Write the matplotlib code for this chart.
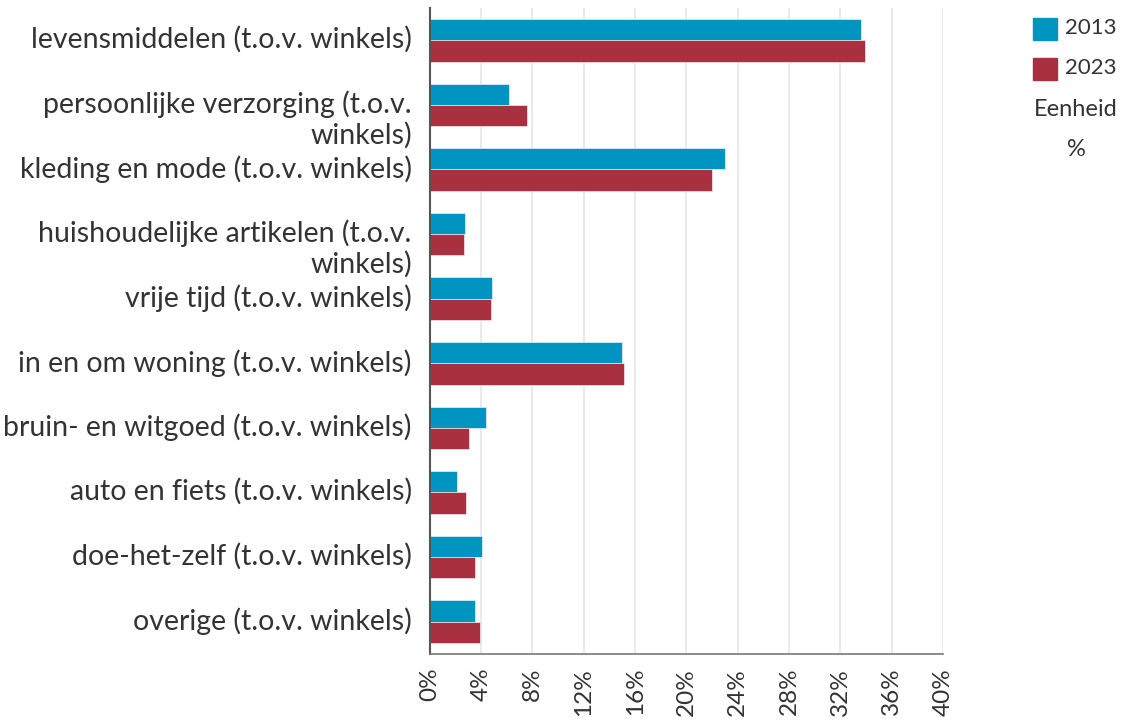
import matplotlib.pyplot as plt
import matplotlib.transforms as mtransforms
import numpy as np

plt.rcParams['font.family'] = ['Lato', 'DejaVu Sans']

# categories, top to bottom
categories = [
    "levensmiddelen (t.o.v. winkels)",
    "persoonlijke verzorging (t.o.v.\nwinkels)",
    "kleding en mode (t.o.v. winkels)",
    "huishoudelijke artikelen (t.o.v.\nwinkels)",
    "vrije tijd (t.o.v. winkels)",
    "in en om woning (t.o.v. winkels)",
    "bruin- en witgoed (t.o.v. winkels)",
    "auto en fiets (t.o.v. winkels)",
    "doe-het-zelf (t.o.v. winkels)",
    "overige (t.o.v. winkels)",
]
vals_2013 = [33.6, 6.15, 23.0, 2.75, 4.85, 15.0, 4.35, 2.15, 4.05, 3.55]
vals_2023 = [33.9, 7.55, 22.0, 2.65, 4.75, 15.15, 3.05, 2.85, 3.55, 3.95]
series_names = ["2013", "2023"]
xticks = list(range(0, 41, 4))

blue = "#0095c0"
red = "#a8303f"
txt = "#333333"

fig = plt.figure(figsize=(11.28, 7.25), dpi=100)
ax = fig.add_axes([0.381, 0.098, 0.455, 0.891])

y = np.arange(len(categories))
h = 0.33
ax.barh(y - h / 2, vals_2013, height=h, color=blue, edgecolor="white", linewidth=0.4)
ax.barh(y + h / 2, vals_2023, height=h, color=red, edgecolor="white", linewidth=0.4)

ax.set_ylim(len(categories) - 0.5, -0.5)
ax.set_xlim(0, 40)
ax.set_xticks(xticks)
ax.set_xticklabels([f"{t}%" for t in xticks], rotation=90, fontsize=17.5, color=txt)
ax.tick_params(axis="x", length=0, pad=10)
ax.set_yticks([])
ax.grid(axis="x", color="#e6e6e6", linewidth=1.2)
ax.set_axisbelow(True)

for s in ["top", "right"]:
    ax.spines[s].set_visible(False)
ax.spines["left"].set_color("#555555")
ax.spines["left"].set_linewidth(1.5)
ax.spines["bottom"].set_color("#777777")
ax.spines["bottom"].set_linewidth(1.2)

# category labels: first line centred on the bar pair
fs = 20.5
trans = mtransforms.blended_transform_factory(ax.transAxes, ax.transData)
for i, lab in enumerate(categories):
    off = mtransforms.ScaledTranslation(-13 / 72, 0.5 * fs / 72, fig.dpi_scale_trans)
    ax.text(0, i, lab, transform=trans + off, ha="right", va="top",
            fontsize=fs, color=txt, multialignment="right", linespacing=1.15)

# legend on the right
for k, (name, c) in enumerate(zip(series_names, [blue, red])):
    yy = 1 - (29 + k * 40) / 725
    fig.patches.append(plt.Rectangle((1033 / 1128, yy - 11 / 725), 24 / 1128, 22 / 725,
                                     transform=fig.transFigure, color=c))
    fig.text(1065 / 1128, yy + 1 / 725, name, fontsize=16, color=txt, va="center", ha="left")
fig.text(1076 / 1128, 1 - 110 / 725, "Eenheid", fontsize=17, color=txt, ha="center", va="center")
fig.text(1076 / 1128, 1 - 150 / 725, "%", fontsize=17, color=txt, ha="center", va="center")

fig.savefig("out.png", dpi=100)
